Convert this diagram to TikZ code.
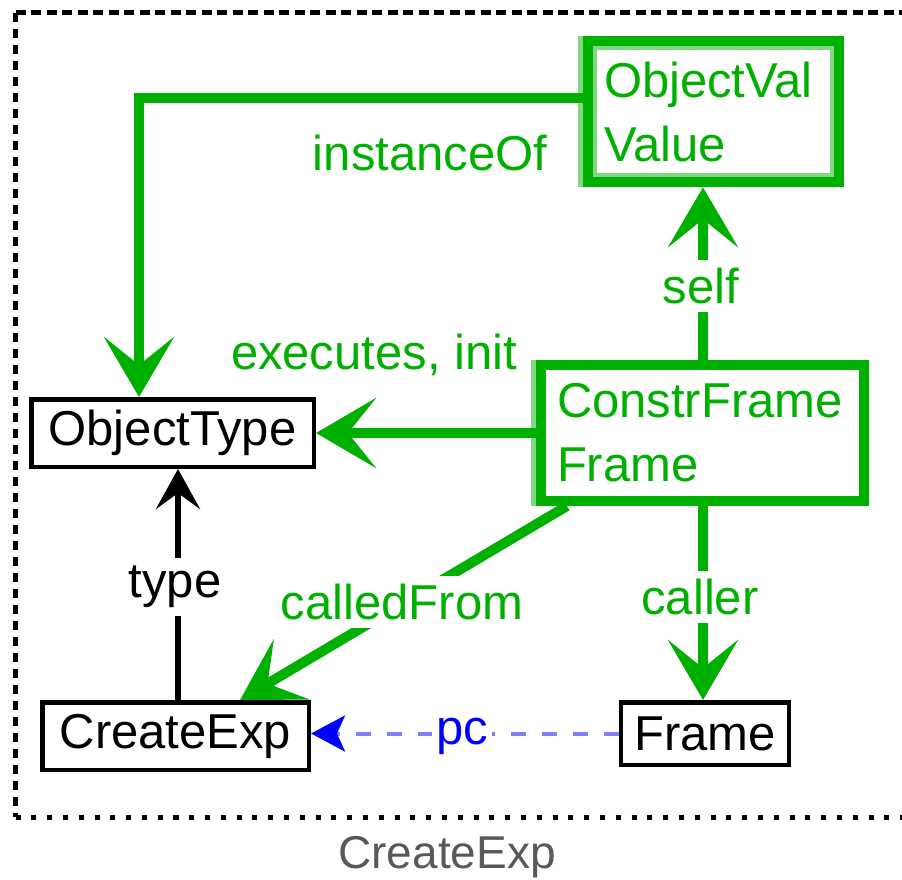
\documentclass[tikz,border=0pt]{standalone}
\usepackage{fontspec}
\setmainfont{Liberation Sans}
\usetikzlibrary{arrows.meta}
\definecolor{dg}{RGB}{0,176,0}
\definecolor{lg}{RGB}{128,216,128}
\definecolor{lb}{RGB}{128,128,255}
\begin{document}
\begin{tikzpicture}[x=0.5pt,y=-0.5pt,
  lbl/.style={font=\fontsize{24.5}{30}\selectfont, fill=white, inner xsep=2pt, inner ysep=4pt},
  bbox/.style={draw=black, line width=2.25pt, inner sep=0pt, font=\fontsize{24.5}{30}\selectfont, minimum height=33.75pt},
  gbox/.style={draw=dg, text=dg, inner xsep=8pt, inner ysep=0pt, align=left, font=\fontsize{24.5}{32}\selectfont},
  garrow/.style={draw=dg, line width=5pt, -{Stealth[length=30pt,width=35pt,inset=14pt]}},
  barrow/.style={draw=black, line width=3pt, -{Stealth[length=20pt,width=22pt,inset=8pt]}},
  pcarrow/.style={draw=lb, line width=2pt, dash pattern=on 7.5pt off 8pt, -{Stealth[length=17pt,width=18pt,inset=4pt,color=blue]}}
]
\useasboundingbox (0,0) rectangle (902,880);

% outer frame (open on the right)
\draw[line width=2.5pt, dash pattern=on 5pt off 2.75pt] (15.5,12.5) -- (902,12.5);
\draw[line width=2.5pt, dash pattern=on 4.5pt off 3.5pt] (15.5,12.5) -- (15.5,817);
\draw[line width=2.5pt, dash pattern=on 2.5pt off 5.4pt] (15.5,817) -- (902,817);

% boxes
\node[gbox, line width=5.25pt, text width=109.5pt, minimum height=70.5pt] (ov) at (713.5,111.5) {ObjectVal\\Value};
\draw[lg, line width=2pt] ([shift={(12.5,12.5)}]ov.north west) rectangle ([shift={(-12.5,-12.5)}]ov.south east);
\draw[lg, line width=2.5pt] ([shift={(-2.5,0)}]ov.north west) -- ([shift={(-2.5,0)}]ov.south west);

\node[gbox, line width=5pt, text width=145.5pt, minimum height=68pt] (cf) at (702.5,433) {ConstrFrame\\Frame};
\draw[lg, line width=2.5pt] ([shift={(-2.5,0)}]cf.north west) -- ([shift={(-2.5,0)}]cf.south west);

\node[bbox, minimum width=141.25pt] (ot) at (172.5,433) {ObjectType};
\node[bbox, minimum width=133.25pt] (ce) at (175.5,736) {CreateExp};
\node[bbox, minimum width=84pt, minimum height=31.25pt] (fr) at (705,733.5) {Frame};

% helper coordinates
\coordinate (sx) at (703,0);
\coordinate (ix) at (139,0);
\coordinate (iy) at (0,98);
\coordinate (cfx) at (567,0);
\coordinate (cex) at (240,0);
\coordinate (tx) at (178,0);

% connectors
\draw[garrow] (ov.west |- iy) -| (ot.north -| ix);
\draw[garrow] (cf.north -| sx) -- (ov.south -| sx);
\draw[garrow] (cf.west) -- (ot.east);
\draw[garrow] (cf.south -| cfx) -- (ce.north -| cex);
\draw[garrow] (cf.south -| sx) -- (fr.north -| sx);
\draw[barrow] (ce.north -| tx) -- (ot.south -| tx);
\draw[pcarrow] (fr.west) -- (ce.east |- fr.west);

% labels
\node[lbl, text=dg] (linst) at (430,153) {instanceOf};
\node[lbl, text=dg] (lself) at (701,286) {self};
\node[lbl, text=dg] (lexec) at (374,355) {executes, init};
\node[lbl, text=dg] (lcalled) at (402,602) {calledFrom};
\node[lbl, text=dg] (lcaller) at (700,597) {caller};
\node[lbl, text=black] (ltype) at (175,587) {type};
\node[lbl, text=blue, inner ysep=1pt] (lpc) at (462,736) {pc};

\node[font=\fontsize{23}{28}\selectfont, text=black!65] (cap) at (447,857) {CreateExp};
\end{tikzpicture}
\end{document}
